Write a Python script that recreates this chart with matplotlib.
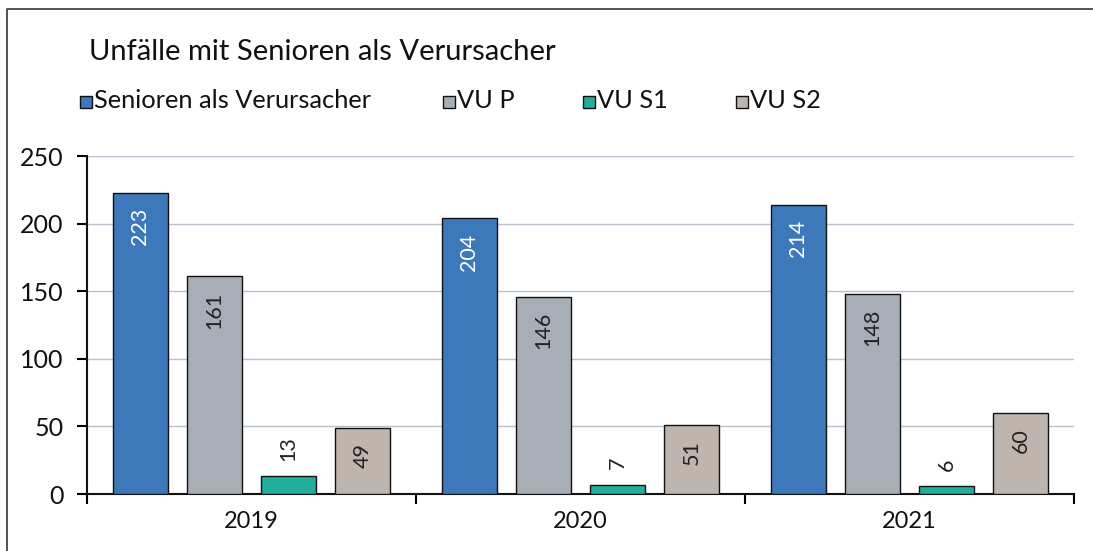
import matplotlib
matplotlib.use("Agg")
import matplotlib.pyplot as plt
from matplotlib.patches import Rectangle
from matplotlib.lines import Line2D
import numpy as np

plt.rcParams['font.family'] = ['Lato', 'DejaVu Sans']

title = "Unfälle mit Senioren als Verursacher"
years = ["2019", "2020", "2021"]
series_names = ["Senioren als Verursacher", "VU P", "VU S1", "VU S2"]
senioren = [223, 204, 214]
vu_p = [161, 146, 148]
vu_s1 = [13, 7, 6]
vu_s2 = [49, 51, 60]
colors = ["#3D78BA", "#A8AEB6", "#22AE9A", "#BDB5AE"]
label_colors = ["white", "#222222", "#222222", "#222222"]
yticks = [0, 50, 100, 150, 200, 250]

values = [senioren, vu_p, vu_s1, vu_s2]

fig = plt.figure(figsize=(10.93, 5.51), dpi=100)
ax = fig.add_axes([87/1093, 1-494/551, (1074-87)/1093, (494-156)/551])

x = np.arange(len(years))
width = 0.167
step = 0.225
for i, (vals, c) in enumerate(zip(values, colors)):
    pos = x + (i - 1.5) * step
    ax.bar(pos, vals, width, color=c, edgecolor="#111111", linewidth=1.0, zorder=3)
    for p, v in zip(pos, vals):
        if v >= 30:
            ax.annotate(str(v), (p, v), xytext=(0, -11), textcoords="offset points",
                        rotation=90, ha="center", va="top", fontsize=15.5,
                        color=label_colors[i], zorder=4)
        else:
            ax.annotate(str(v), (p, v), xytext=(0, 11), textcoords="offset points",
                        rotation=90, ha="center", va="bottom", fontsize=15.5,
                        color=label_colors[i], zorder=4)

ax.set_xlim(-0.5, 2.5)
ax.set_ylim(0, 250)
ax.set_yticks(yticks)
ax.set_yticklabels([str(t) for t in yticks], fontsize=18, color="#111111")
ax.yaxis.grid(True, color="#B8C0CC", linewidth=1.0, zorder=0)
ax.set_axisbelow(True)

ax.set_xticks([-0.5, 0.5, 1.5, 2.5])
ax.set_xticklabels([])
ax.set_xticks(x, minor=True)
ax.set_xticklabels(years, minor=True, fontsize=17, color="#111111")
ax.tick_params(axis="x", which="minor", length=0, pad=12)
ax.tick_params(axis="x", which="major", length=7, width=1.5, direction="out")
ax.tick_params(axis="y", length=7, width=1.5, direction="out", pad=10)

for s in ["top", "right"]:
    ax.spines[s].set_visible(False)
for s in ["left", "bottom"]:
    ax.spines[s].set_linewidth(1.5)
    ax.spines[s].set_color("#111111")

fig.text(89/1093, 1-52/551, title, fontsize=21, va="center", ha="left", color="#111111")

legend_x = [80, 443, 583, 736]
for lx, name, c in zip(legend_x, series_names, colors):
    fig.patches.append(Rectangle((lx/1093, 1-108/551), 12/1093, 12/551,
                                 transform=fig.transFigure, facecolor=c,
                                 edgecolor="#111111", linewidth=1.0))
    fig.text((lx+14)/1093, 1-101/551, name, fontsize=18.3, va="center", ha="left",
             color="#111111")

# outer border (top and left visible)
fig.add_artist(Line2D([7/1093, 7/1093, 1.0], [0.0, 1-9/551, 1-9/551],
                      transform=fig.transFigure, color="#444444", linewidth=1.3))

fig.savefig("out.png", dpi=100)
